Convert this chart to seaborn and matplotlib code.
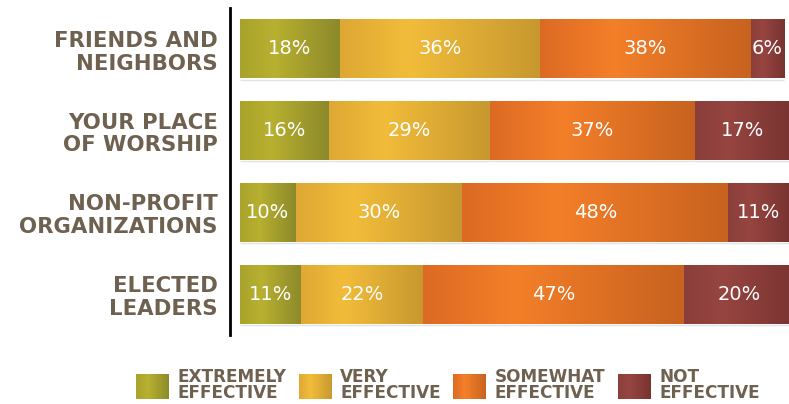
import numpy as np
import matplotlib
matplotlib.use("Agg")
import matplotlib.pyplot as plt
import seaborn as sns
from matplotlib.colors import LinearSegmentedColormap
from matplotlib.legend_handler import HandlerPatch
from matplotlib.patches import Rectangle, Patch

# Survey answers: how effective each group is, in percent of respondents
categories = ["FRIENDS AND\nNEIGHBORS", "YOUR PLACE\nOF WORSHIP",
              "NON-PROFIT\nORGANIZATIONS", "ELECTED\nLEADERS"]
series_names = ["EXTREMELY\nEFFECTIVE", "VERY\nEFFECTIVE",
                "SOMEWHAT\nEFFECTIVE", "NOT\nEFFECTIVE"]
extremely = [18, 16, 10, 11]
very = [36, 29, 30, 22]
somewhat = [38, 37, 48, 47]
not_effective = [6, 17, 11, 20]
series_values = [extremely, very, somewhat, not_effective]

# Horizontal shading of each segment: left edge, highlight, right edge
shades = [
    ("#A8A32B", "#B8B030", "#8C892A"),
    ("#DEA834", "#F2BC3A", "#C7982F"),
    ("#DC6A23", "#F47F29", "#C7621F"),
    ("#8A3E3A", "#974541", "#783330"),
]
text_color = "#6E6150"


def shade_cmap(stops):
    return LinearSegmentedColormap.from_list(
        "shade", [(0.0, stops[0]), (0.35, stops[1]), (1.0, stops[2])])


class GradientHandler(HandlerPatch):
    def __init__(self, stops, steps=30):
        super().__init__()
        self.cmap = shade_cmap(stops)
        self.steps = steps

    def create_artists(self, legend, orig_handle, xdescent, ydescent,
                       width, height, fontsize, trans):
        arts = []
        for k in range(self.steps):
            r = Rectangle((-xdescent + width * k / self.steps, -ydescent),
                          width / self.steps * 1.05, height,
                          facecolor=self.cmap((k + 0.5) / self.steps),
                          edgecolor="none", transform=trans)
            arts.append(r)
        return arts


sns.set_theme(style="white")
plt.rcParams["font.family"] = ["DejaVu Sans"]

fig = plt.figure(figsize=(7.89, 4.04), dpi=100)
ax = fig.add_axes([230 / 789, 69 / 404, 559 / 789, 327 / 404])

left = np.zeros(len(categories))
grad = np.linspace(0, 1, 256).reshape(1, -1)
for values, stops in zip(series_values, shades):
    n_before = len(ax.patches)
    sns.barplot(x=values, y=categories, order=categories, orient="y",
                left=left, color=stops[1], width=0.72, errorbar=None,
                linewidth=0, ax=ax)
    cmap = shade_cmap(stops)
    for patch, v in zip(ax.patches[n_before:], values):
        x0, y0 = patch.get_x(), patch.get_y()
        w, h = patch.get_width(), patch.get_height()
        im = ax.imshow(grad, cmap=cmap, extent=[x0, x0 + w, y0 + h, y0],
                       aspect="auto", interpolation="bilinear", zorder=2)
        im.set_clip_path(patch)
        ax.plot([x0, x0 + w], [y0 + h + 0.015, y0 + h + 0.015],
                color="#E3E3E3", lw=1.0, zorder=1, solid_capstyle="butt")
        ax.text(x0 + w / 2, y0 + h / 2, f"{v}%", ha="center", va="center",
                color="white", fontsize=14, zorder=4)
    left = left + np.array(values)

ax.set_xlim(-1.8, 98.9)
ax.set_ylim(3.5, -0.5)
ax.set_xticks([])
ax.set_yticks(range(len(categories)))
ax.set_yticklabels(categories, fontsize=15.3, color=text_color,
                   fontweight="bold", linespacing=1.17)
ax.tick_params(axis="y", length=0, pad=9)
ax.set_xlabel("")
ax.set_ylabel("")
for side in ["top", "right", "bottom"]:
    ax.spines[side].set_visible(False)
ax.spines["left"].set_color("black")
ax.spines["left"].set_linewidth(2)

handles = [Patch() for _ in series_names]
handler_map = {h: GradientHandler(s) for h, s in zip(handles, shades)}
leg = fig.legend(handles, series_names, handler_map=handler_map,
                 loc="center", bbox_to_anchor=(448 / 789, 1 - 385 / 404),
                 ncol=4, frameon=False, handlelength=1.95,
                 handleheight=1.95, handletextpad=0.5, columnspacing=0.72,
                 borderpad=0, labelcolor=text_color,
                 prop={"weight": "bold", "size": 12.2})
for t in leg.get_texts():
    t.set_linespacing(0.92)

fig.savefig("out.png", dpi=100)
